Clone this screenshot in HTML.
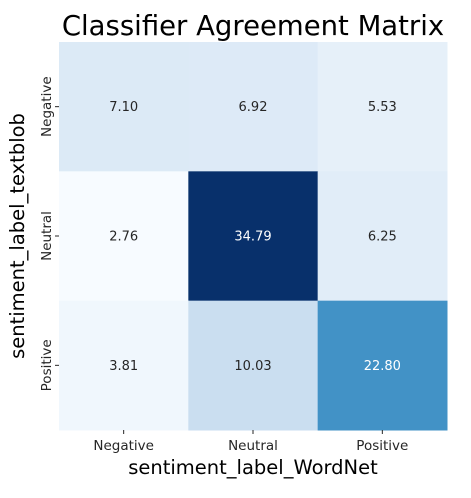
<!DOCTYPE html>
<html><head><meta charset="utf-8"><style>
body{margin:0;background:#fff;width:471px;height:493px;overflow:hidden;font-family:"Liberation Sans","DejaVu Sans",sans-serif}
</style></head><body>
<svg id="c" width="471" height="493" font-family="DejaVu Sans, Liberation Sans, sans-serif"></svg>
<script>
const rowLabels=["Negative","Neutral","Positive"];
const colLabels=["Negative","Neutral","Positive"];
const row0=[7.10,6.92,5.53];
const row1=[2.76,34.79,6.25];
const row2=[3.81,10.03,22.80];
const values=[row0,row1,row2];
const L=59,T=42,W=388,H=388;
const svg=document.getElementById('c');
const NS='http://www.w3.org/2000/svg';
const stops=["#f7fbff","#deebf7","#c6dbef","#9ecae1","#6baed6","#4292c6","#2171b5","#08519c","#08306b"].map(h=>[1,3,5].map(i=>parseInt(h.substr(i,2),16)));
const flat=values.flat();const vmin=Math.min(...flat),vmax=Math.max(...flat);
function cmap(v){let t=(v-vmin)/(vmax-vmin);t=Math.max(0,Math.min(1,t))*8;let i=Math.min(7,Math.floor(t)),f=t-i;const c=stops[i].map((a,k)=>a+(stops[i+1][k]-a)*f);return c;}
function lum(c){const l=c.map(x=>{x/=255;return x<=0.03928?x/12.92:Math.pow((x+0.055)/1.055,2.4)});return 0.2126*l[0]+0.7152*l[1]+0.0722*l[2];}
const cw=W/colLabels.length,ch=H/rowLabels.length;
function xs(j){return L+j*cw}function ys(i){return T+i*ch}
function mk(tag,attrs,txt){const e=document.createElementNS(NS,tag);for(const k in attrs)e.setAttribute(k,attrs[k]);if(txt!=null)e.textContent=txt;svg.appendChild(e);return e;}
values.forEach((r,i)=>r.forEach((v,j)=>{const c=cmap(v);
const rc=mk('rect',{x:xs(j),y:ys(i),width:cw+0.5,height:ch+0.5,fill:`rgb(${c.map(Math.round).join(',')})`});


const t=mk('text',{x:xs(j)+cw/2,y:ys(i)+ch/2+4.5,'text-anchor':'middle','font-size':'13',fill:lum(c)>0.408?'#262626':'#ffffff'},v.toFixed(2));


}));
colLabels.forEach((l,j)=>{const x=xs(j)+cw/2;mk('line',{x1:x,x2:x,y1:T+H,y2:T+H+4,stroke:'#262626'});
const t=mk('text',{x:x,y:T+H+20,'text-anchor':'middle','font-size':'13.5',fill:'#262626'},l);

});
rowLabels.forEach((l,i)=>{const y=ys(i)+ch/2;mk('line',{x1:L-4,x2:L,y1:y,y2:y,stroke:'#262626'});
const t=mk('text',{x:0,y:0,'text-anchor':'middle','font-size':'13.5',fill:'#262626',transform:`translate(${L-8},${y}) rotate(-90)`},l);

});
const ti=mk('text',{x:L+W/2,y:35,'text-anchor':'middle','font-size':'27.5',fill:'#000'},'Classifier Agreement Matrix');

const xt=mk('text',{x:L+W/2,y:474,'text-anchor':'middle','font-size':'19.5',fill:'#000'},'sentiment_label_WordNet');

const yt=mk('text',{x:0,y:0,'text-anchor':'middle','font-size':'19.5',fill:'#000',transform:`translate(24,${T+H/2}) rotate(-90)`},'sentiment_label_textblob');

</script>
</body></html>
